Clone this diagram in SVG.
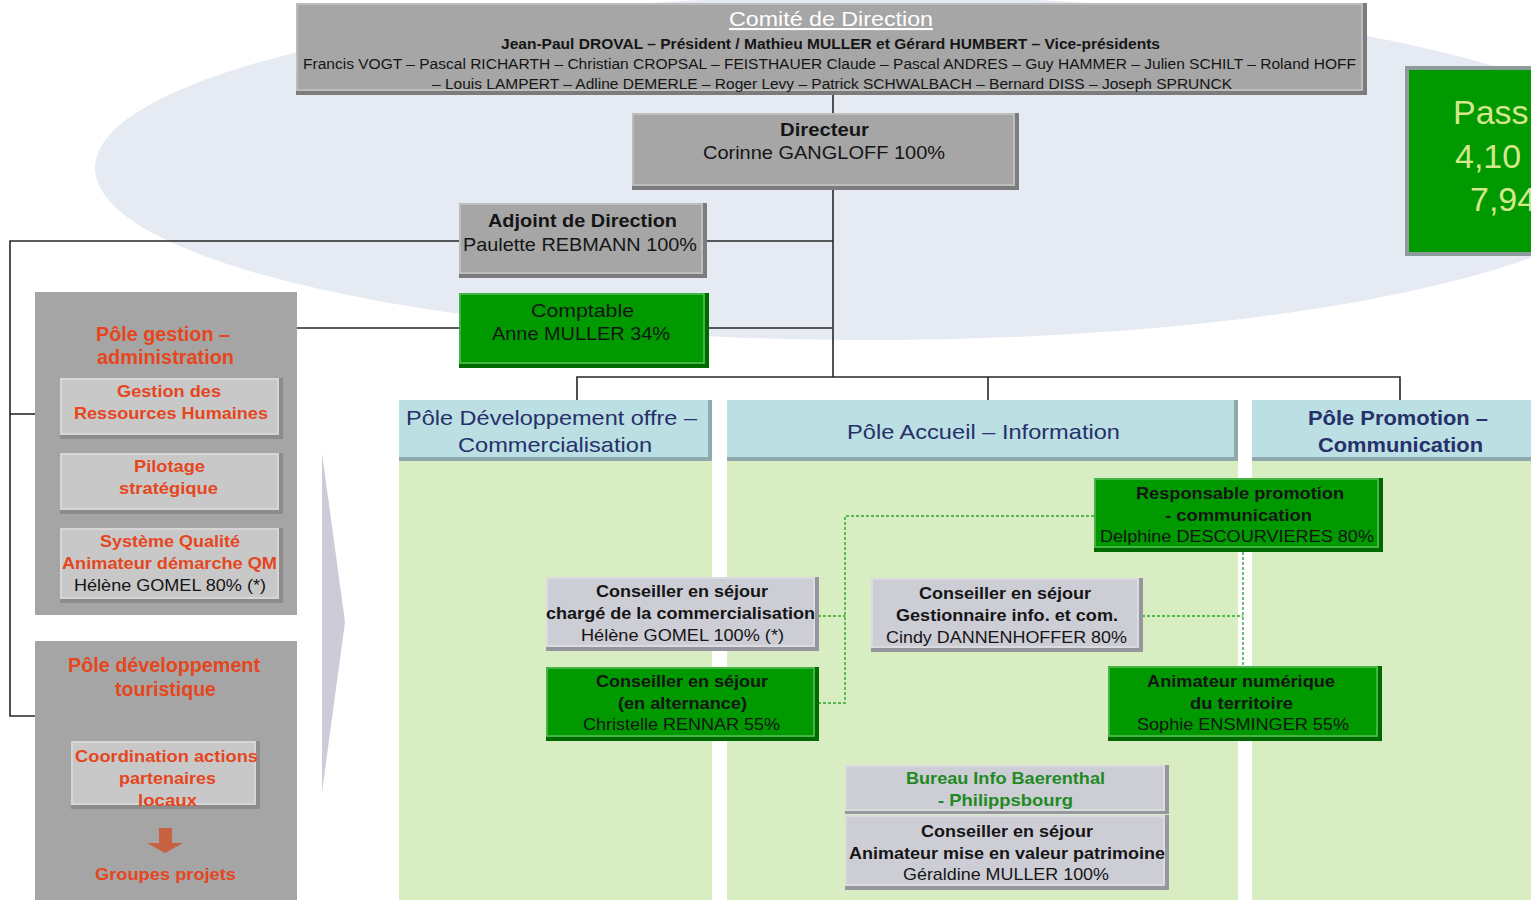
<svg xmlns="http://www.w3.org/2000/svg" width="1531" height="900" viewBox="0 0 1531 900">
<style>
text{font-family:"Liberation Sans",Arial,sans-serif}
.b{font-weight:bold}
.k{fill:#151515}
.or{fill:#e5461d;font-weight:bold}
.nv{fill:#26306a}
.gs{fill:#7c7c7c}
.gf{fill:#a6a6a6}
.ls{fill:#8c8c8c}
.lf{fill:#c8c8c8}
.vs{fill:#96969e}
.vf{fill:#cdcdd6}
.es{fill:#006a00}
.ef{fill:#009a00}
.hs{fill:#8fa9ac}
.hf{fill:#bbdfe2}
.col{fill:#d8edc1}
.hl{fill:none;stroke:#ffffff;stroke-opacity:0.35;stroke-width:1.5}
.cn{fill:none;stroke:#262626;stroke-width:1.6}
.dg{fill:none;stroke:#2aa62a;stroke-width:1.4;stroke-dasharray:3 2}
</style>
<rect width="1531" height="900" fill="#ffffff"/>
<ellipse cx="870" cy="168" rx="775" ry="172" fill="#e6eaf2"/>

<g id="columns">
<rect class="col" x="399" y="400" width="313" height="500"/>
<rect class="col" x="727" y="400" width="511" height="500"/>
<rect class="col" x="1252" y="400" width="279" height="500"/>
</g>

<g id="connectors">
<line class="cn" x1="833" y1="95" x2="833" y2="113"/>
<line class="cn" x1="833" y1="190" x2="833" y2="377"/>
<polyline class="cn" points="577,400 577,377 1400,377 1400,400"/>
<line class="cn" x1="988" y1="377" x2="988" y2="400"/>
<line class="cn" x1="707" y1="241" x2="833" y2="241"/>
<line class="cn" x1="709" y1="328" x2="832" y2="328"/>
<line class="cn" x1="297" y1="328" x2="459" y2="328"/>
<polyline class="cn" points="459,241 10,241 10,716 35,716"/>
<line class="cn" x1="10" y1="414" x2="35" y2="414"/>
<polyline class="dg" points="1094,516 845,516 845,703 818,703"/>
<line class="dg" x1="818" y1="616" x2="845" y2="616"/>
<line class="dg" x1="1243" y1="552" x2="1243" y2="666"/>
<line class="dg" x1="1142" y1="616" x2="1243" y2="616"/>
</g>

<g id="comite">
<rect class="gs" x="296" y="3" width="1071" height="92"/>
<rect class="gf" x="296" y="3" width="1067" height="88"/>
<rect class="hl" x="297" y="4" width="1065" height="86"/>
<text x="729" y="26" font-size="21" fill="#ffffff" text-decoration="underline" textLength="204" lengthAdjust="spacingAndGlyphs">Comité de Direction</text>
<text class="b k" x="501" y="49" font-size="14" textLength="659" lengthAdjust="spacingAndGlyphs">Jean-Paul DROVAL – Président / Mathieu MULLER et Gérard HUMBERT – Vice-présidents</text>
<text class="k" x="303" y="69" font-size="14" textLength="1053" lengthAdjust="spacingAndGlyphs">Francis VOGT – Pascal RICHARTH – Christian CROPSAL – FEISTHAUER Claude – Pascal ANDRES – Guy HAMMER – Julien SCHILT – Roland HOFF</text>
<text class="k" x="432" y="89" font-size="14" textLength="800" lengthAdjust="spacingAndGlyphs">– Louis LAMPERT – Adline DEMERLE – Roger Levy – Patrick SCHWALBACH – Bernard DISS – Joseph SPRUNCK</text>
</g>

<g id="passages">
<rect x="1405" y="66" width="130" height="190" fill="#8d9b9b"/>
<rect x="1409" y="70" width="126" height="182" fill="#009900"/>
<g font-size="34" fill="#d4e88e">
<text x="1453" y="124">Pass</text>
<text x="1455" y="168">4,10</text>
<text x="1470" y="211">7,94</text>
</g>
</g>

<g id="directeur">
<rect class="gs" x="632" y="113" width="387" height="77"/>
<rect class="gf" x="632" y="113" width="383" height="73"/>
<rect class="hl" x="633" y="114" width="381" height="71"/>
<text class="b k" x="780" y="136" font-size="19" textLength="89" lengthAdjust="spacingAndGlyphs">Directeur</text>
<text class="k" x="703" y="159" font-size="19" textLength="242" lengthAdjust="spacingAndGlyphs">Corinne GANGLOFF 100%</text>
</g>

<g id="adjoint">
<rect class="gs" x="459" y="203" width="248" height="75"/>
<rect class="gf" x="459" y="203" width="244" height="71"/>
<rect class="hl" x="460" y="204" width="242" height="69"/>
<text class="b k" x="488" y="227" font-size="19" textLength="189" lengthAdjust="spacingAndGlyphs">Adjoint de Direction</text>
<text class="k" x="463" y="251" font-size="19" textLength="234" lengthAdjust="spacingAndGlyphs">Paulette REBMANN 100%</text>
</g>

<g id="comptable">
<rect class="es" x="459" y="293" width="250" height="75"/>
<rect class="ef" x="459" y="293" width="246" height="71"/>
<rect class="hl" x="460" y="294" width="244" height="69"/>
<text class="k" x="531" y="317" font-size="19" textLength="103" lengthAdjust="spacingAndGlyphs">Comptable</text>
<text class="k" x="492" y="340" font-size="19" textLength="178" lengthAdjust="spacingAndGlyphs">Anne MULLER 34%</text>
</g>

<g id="pole-gestion">
<rect x="35" y="292" width="262" height="323" fill="#a5a5a5"/>
<text class="or" x="96" y="341" font-size="20" textLength="134" lengthAdjust="spacingAndGlyphs">Pôle gestion –</text>
<text class="or" x="97" y="364" font-size="20" textLength="137" lengthAdjust="spacingAndGlyphs">administration</text>
</g>

<g id="grh">
<rect class="ls" x="60" y="378" width="223" height="61"/>
<rect class="lf" x="60" y="378" width="219" height="57"/>
<rect class="hl" x="61" y="379" width="217" height="55"/>
<text class="or" x="117" y="397" font-size="17" textLength="104" lengthAdjust="spacingAndGlyphs">Gestion des</text>
<text class="or" x="74" y="419" font-size="17" textLength="194" lengthAdjust="spacingAndGlyphs">Ressources Humaines</text>
</g>

<g id="pilotage">
<rect class="ls" x="60" y="453" width="223" height="61"/>
<rect class="lf" x="60" y="453" width="219" height="57"/>
<rect class="hl" x="61" y="454" width="217" height="55"/>
<text class="or" x="134" y="472" font-size="17" textLength="71" lengthAdjust="spacingAndGlyphs">Pilotage</text>
<text class="or" x="119" y="494" font-size="17" textLength="99" lengthAdjust="spacingAndGlyphs">stratégique</text>
</g>

<g id="qualite">
<rect class="ls" x="60" y="528" width="223" height="75"/>
<rect class="lf" x="60" y="528" width="219" height="71"/>
<rect class="hl" x="61" y="529" width="217" height="69"/>
<text class="or" x="100" y="547" font-size="17" textLength="140" lengthAdjust="spacingAndGlyphs">Système Qualité</text>
<text class="or" x="62" y="569" font-size="17" textLength="215" lengthAdjust="spacingAndGlyphs">Animateur démarche QM</text>
<text class="k" x="74" y="591" font-size="17" textLength="192" lengthAdjust="spacingAndGlyphs">Hélène GOMEL 80% (*)</text>
</g>

<g id="pole-dev-touristique">
<rect x="35" y="641" width="262" height="259" fill="#a5a5a5"/>
<text class="or" x="68" y="672" font-size="20" textLength="192" lengthAdjust="spacingAndGlyphs">Pôle développement</text>
<text class="or" x="115" y="696" font-size="20" textLength="101" lengthAdjust="spacingAndGlyphs">touristique</text>
<polygon points="159,828 172,828 172,843 183,843 165,853 147,843 159,843" fill="#c8613f"/>
<text class="or" x="95" y="880" font-size="17" textLength="141" lengthAdjust="spacingAndGlyphs">Groupes projets</text>
</g>

<g id="coordination">
<rect class="ls" x="71" y="741" width="189" height="68"/>
<rect class="lf" x="71" y="741" width="185" height="64"/>
<rect class="hl" x="72" y="742" width="183" height="62"/>
<text class="or" x="75" y="762" font-size="17" textLength="183" lengthAdjust="spacingAndGlyphs">Coordination actions</text>
<text class="or" x="119" y="784" font-size="17" textLength="97" lengthAdjust="spacingAndGlyphs">partenaires</text>
<text class="or" x="138" y="806" font-size="17" textLength="59" lengthAdjust="spacingAndGlyphs">locaux</text>
</g>

<polygon id="transition-arrow" points="322,453 345,622 322,792" fill="#cbccd8"/>

<g id="pole-dev-offre">
<rect class="hs" x="399" y="400" width="313" height="61"/>
<rect class="hf" x="399" y="400" width="309" height="57"/>
<text class="nv" x="406" y="425" font-size="21" textLength="291" lengthAdjust="spacingAndGlyphs">Pôle Développement  offre –</text>
<text class="nv" x="458" y="452" font-size="21" textLength="194" lengthAdjust="spacingAndGlyphs">Commercialisation</text>
</g>

<g id="pole-accueil">
<rect class="hs" x="727" y="400" width="511" height="61"/>
<rect class="hf" x="727" y="400" width="507" height="57"/>
<text class="nv" x="847" y="439" font-size="21" textLength="273" lengthAdjust="spacingAndGlyphs">Pôle Accueil – Information</text>
</g>

<g id="pole-promotion">
<rect class="hs" x="1252" y="400" width="279" height="61"/>
<rect class="hf" x="1252" y="400" width="279" height="57"/>
<text class="nv b" x="1308" y="425" font-size="21" textLength="180" lengthAdjust="spacingAndGlyphs">Pôle Promotion –</text>
<text class="nv b" x="1318" y="452" font-size="21" textLength="165" lengthAdjust="spacingAndGlyphs">Communication</text>
</g>

<g id="conseiller-commercialisation">
<rect class="vs" x="546" y="577" width="273" height="74"/>
<rect class="vf" x="546" y="577" width="269" height="70"/>
<rect class="hl" x="547" y="578" width="267" height="68"/>
<text class="b k" x="596" y="597" font-size="17" textLength="172" lengthAdjust="spacingAndGlyphs">Conseiller en séjour</text>
<text class="b k" x="546" y="619" font-size="17" textLength="269" lengthAdjust="spacingAndGlyphs">chargé de la commercialisation</text>
<text class="k" x="581" y="641" font-size="17" textLength="203" lengthAdjust="spacingAndGlyphs">Hélène GOMEL 100% (*)</text>
</g>

<g id="conseiller-alternance">
<rect class="es" x="546" y="667" width="273" height="74"/>
<rect class="ef" x="546" y="667" width="269" height="70"/>
<rect class="hl" x="547" y="668" width="267" height="68"/>
<text class="b k" x="596" y="687" font-size="17" textLength="172" lengthAdjust="spacingAndGlyphs">Conseiller en séjour</text>
<text class="b k" x="618" y="709" font-size="17" textLength="129" lengthAdjust="spacingAndGlyphs">(en alternance)</text>
<text class="k" x="583" y="730" font-size="17" textLength="197" lengthAdjust="spacingAndGlyphs">Christelle RENNAR 55%</text>
</g>

<g id="gestionnaire-info">
<rect class="vs" x="871" y="578" width="272" height="74"/>
<rect class="vf" x="871" y="578" width="268" height="70"/>
<rect class="hl" x="872" y="579" width="266" height="68"/>
<text class="b k" x="919" y="599" font-size="17" textLength="172" lengthAdjust="spacingAndGlyphs">Conseiller en séjour</text>
<text class="b k" x="896" y="621" font-size="17" textLength="222" lengthAdjust="spacingAndGlyphs">Gestionnaire info. et com.</text>
<text class="k" x="886" y="643" font-size="17" textLength="241" lengthAdjust="spacingAndGlyphs">Cindy DANNENHOFFER 80%</text>
</g>

<g id="responsable-promotion">
<rect class="es" x="1094" y="478" width="289" height="74"/>
<rect class="ef" x="1094" y="478" width="285" height="70"/>
<rect class="hl" x="1095" y="479" width="283" height="68"/>
<text class="b k" x="1136" y="499" font-size="17" textLength="208" lengthAdjust="spacingAndGlyphs">Responsable promotion</text>
<text class="b k" x="1165" y="521" font-size="17" textLength="147" lengthAdjust="spacingAndGlyphs">- communication</text>
<text class="k" x="1100" y="542" font-size="17" textLength="274" lengthAdjust="spacingAndGlyphs">Delphine DESCOURVIERES 80%</text>
</g>

<g id="animateur-numerique">
<rect class="es" x="1108" y="666" width="274" height="75"/>
<rect class="ef" x="1108" y="666" width="270" height="71"/>
<rect class="hl" x="1109" y="667" width="268" height="69"/>
<text class="b k" x="1147" y="687" font-size="17" textLength="188" lengthAdjust="spacingAndGlyphs">Animateur numérique</text>
<text class="b k" x="1190" y="709" font-size="17" textLength="103" lengthAdjust="spacingAndGlyphs">du territoire</text>
<text class="k" x="1137" y="730" font-size="17" textLength="212" lengthAdjust="spacingAndGlyphs">Sophie ENSMINGER 55%</text>
</g>

<g id="bureau-info">
<rect class="vs" x="845" y="765" width="324" height="49"/>
<rect class="vf" x="845" y="765" width="320" height="46"/>
<rect class="hl" x="846" y="766" width="318" height="44"/>
<text class="b" x="906" y="784" font-size="17" fill="#1f8a1f" textLength="199" lengthAdjust="spacingAndGlyphs">Bureau Info Baerenthal</text>
<text class="b" x="938" y="806" font-size="17" fill="#1f8a1f" textLength="135" lengthAdjust="spacingAndGlyphs">- Philippsbourg</text>
</g>

<g id="conseiller-patrimoine">
<rect class="vs" x="845" y="815" width="324" height="75"/>
<rect class="vf" x="845" y="815" width="320" height="71"/>
<rect class="hl" x="846" y="816" width="318" height="69"/>
<text class="b k" x="921" y="837" font-size="17" textLength="172" lengthAdjust="spacingAndGlyphs">Conseiller en séjour</text>
<text class="b k" x="849" y="859" font-size="17" textLength="316" lengthAdjust="spacingAndGlyphs">Animateur mise en valeur patrimoine</text>
<text class="k" x="903" y="880" font-size="17" textLength="206" lengthAdjust="spacingAndGlyphs">Géraldine MULLER 100%</text>
</g>
</svg>
